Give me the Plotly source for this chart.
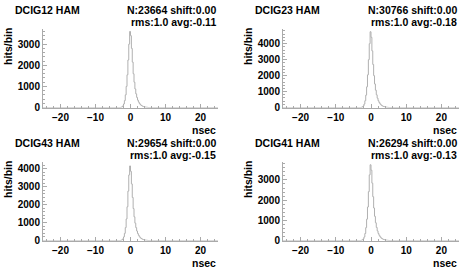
import plotly.graph_objects as go

# bin edges (ns), 0.25 ns bins
bin_lo = -3.0
bin_w = 0.25

titles = ["DCIG12 HAM", "DCIG23 HAM", "DCIG43 HAM", "DCIG41 HAM"]
n_hits = [23664, 30766, 29654, 26294]
shifts = ["0.00", "0.00", "0.00", "0.00"]
rms = ["1.0", "1.0", "1.0", "1.0"]
avgs = ["-0.11", "-0.18", "-0.15", "-0.13"]

counts_12 = [5, 15, 35, 80, 170, 330, 600, 1000, 1550, 2250, 3000, 3600, 3400, 2800, 2150, 1600,
             1200, 880, 650, 480, 350, 260, 190, 140, 100, 75, 55, 40, 28, 20, 14, 10]
counts_23 = [6, 18, 45, 100, 220, 430, 780, 1300, 2050, 3000, 4000, 4750, 4400, 3550, 2700, 2000,
             1480, 1090, 800, 590, 430, 320, 235, 172, 125, 92, 68, 50, 36, 26, 18, 12]
counts_43 = [6, 17, 42, 95, 205, 400, 720, 1200, 1880, 2750, 3650, 4150, 3850, 3150, 2400, 1780,
             1320, 970, 720, 530, 390, 290, 212, 155, 113, 83, 61, 45, 32, 23, 16, 11]
counts_41 = [5, 15, 38, 85, 180, 350, 640, 1060, 1660, 2420, 3250, 3750, 3480, 2840, 2170, 1610,
             1200, 880, 650, 480, 352, 262, 192, 140, 102, 75, 55, 40, 29, 21, 15, 10]
all_counts = [counts_12, counts_23, counts_43, counts_41]

y_max = [3700, 4900, 4350, 3870]
y_dtick = [1000, 1000, 1000, 1000]
x_range = [-25, 25]
x_ticks = [-20, -10, 0, 10, 20]

W, H = 463, 272
# panel boxes in pixels: (left, right, top, bottom)
boxes = [(43, 218, 30, 110), (283, 459, 30, 110), (43, 218, 166, 246), (283, 459, 166, 246)]

FONT = "Liberation Sans"
fig = go.Figure()
annotations = []

for i, counts in enumerate(all_counts):
    xs = [x_range[0]]
    ys = [0]
    edges = [bin_lo + k * bin_w for k in range(len(counts) + 1)]
    xs.append(edges[0]); ys.append(0)
    for k, c in enumerate(counts):
        xs.append(edges[k]); ys.append(c)
    xs.append(edges[-1]); ys.append(0)
    xs.append(x_range[1]); ys.append(0)
    ax = "" if i == 0 else str(i + 1)
    fig.add_trace(go.Scatter(x=xs, y=ys, mode="lines", line=dict(color="#b0b0b0", width=1, shape="hv"),
                             xaxis="x" + ax, yaxis="y" + ax, showlegend=False, hoverinfo="skip"))
    l, r, t, b = boxes[i]
    xd = [l / W, r / W]
    yd = [1 - b / H, 1 - t / H]
    axis_common = dict(showgrid=False, zeroline=False, showline=True, linecolor="#aaaaaa", linewidth=1,
                       ticks="inside", ticklen=4, tickcolor="#aaaaaa",
                       tickfont=dict(family=FONT, size=10, color="black", weight="bold"))
    fig.update_layout({
        "xaxis" + ax: dict(domain=xd, range=x_range, tickvals=x_ticks, anchor="y" + ax, ticklabelstandoff=0,
                           minor=dict(dtick=2, ticklen=2, tickcolor="#aaaaaa", ticks="inside"),
                           **axis_common),
        "yaxis" + ax: dict(domain=yd, range=[0, y_max[i]], dtick=y_dtick[i], anchor="x" + ax, ticklabelstandoff=0,
                           minor=dict(dtick=200, ticklen=2, tickcolor="#aaaaaa", ticks="inside"),
                           **axis_common),
    })
    tf = dict(family=FONT, size=10.5, color="black", weight="bold")
    annotations += [
        dict(text=titles[i], x=(l - 30) / W, y=1 - (t - 20) / H, xanchor="left", yanchor="middle"),
        dict(text=f"N:{n_hits[i]} shift:{shifts[i]}", x=r / W, y=1 - (t - 20) / H, xanchor="right", yanchor="middle"),
        dict(text=f"rms:{rms[i]} avg:{avgs[i]}", x=r / W, y=1 - (t - 7) / H, xanchor="right", yanchor="middle"),
        dict(text="nsec", x=r / W, y=1 - (b + 22.5) / H, xanchor="right", yanchor="middle"),
        dict(text="hits/bin", x=(l - 35) / W, y=1 - (t + 18) / H, xanchor="center", yanchor="middle", textangle=-90),
    ]
    for a in annotations[-5:]:
        a.update(xref="paper", yref="paper", showarrow=False, font=tf)

fig.update_layout(width=W, height=H, margin=dict(l=0, r=0, t=0, b=0), paper_bgcolor="white",
                  plot_bgcolor="white", annotations=annotations)
fig.write_html("out.html", config={"displayModeBar": False, "staticPlot": True})

# remove the default page margin so the figure sits at the window's top-left corner
with open("out.html", encoding="utf-8") as f:
    page = f.read()
page = page.replace("<head>", "<head><style>html,body{margin:0;padding:0;overflow:hidden;}</style>", 1)
with open("out.html", "w", encoding="utf-8") as f:
    f.write(page)
